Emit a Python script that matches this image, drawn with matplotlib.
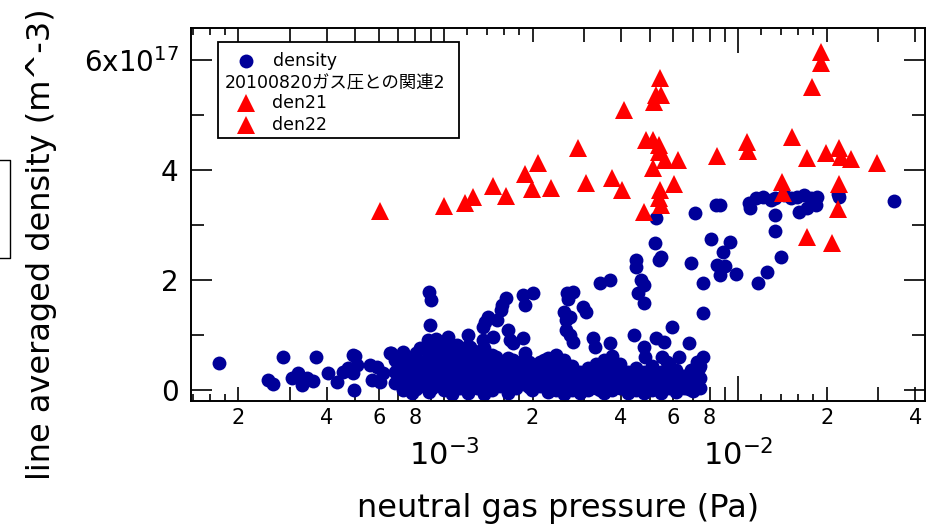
import matplotlib
matplotlib.use('Agg')
import matplotlib.pyplot as plt
from matplotlib.ticker import FixedLocator, FuncFormatter, NullFormatter
from matplotlib.lines import Line2D
from matplotlib.patches import Rectangle
import numpy as np

plt.rcParams['font.family'] = 'DejaVu Sans'
plt.rcParams['mathtext.fontset'] = 'dejavusans'

BLUE = '#000099'
RED = '#ff0000'

# --- density (blue dots): pressure in Pa, density in 1e17 m^-3 ---
density_p = [
    # sparse low-pressure points
    1.72e-4, 2.84e-4, 3.68e-4, 2.53e-4, 2.63e-4, 3.05e-4, 3.20e-4, 3.30e-4, 3.43e-4, 3.60e-4,
    4.02e-4, 4.34e-4, 4.52e-4, 4.70e-4, 4.89e-4, 5.00e-4, 4.93e-4, 5.08e-4, 4.89e-4, 5.62e-4,
    5.94e-4, 5.71e-4, 6.22e-4, 6.08e-4, 6.53e-4, 7.00e-4, 7.28e-4, 7.81e-4, 7.69e-4, 8.13e-4,
    # middle, raised points
    8.86e-4, 9.00e-4, 8.93e-4, 8.79e-4, 9.36e-4, 1.03e-3, 6.58e-4, 1.21e-3, 1.41e-3, 1.38e-3,
    1.52e-3, 1.62e-3, 1.58e-3, 1.56e-3, 1.65e-3, 1.68e-3, 1.86e-3, 1.89e-3, 1.71e-3, 1.47e-3,
    1.36e-3, 1.36e-3, 1.11e-3, 1.07e-3, 9.96e-4, 1.23e-3, 8.45e-4, 8.86e-4, 1.86e-3, 2.01e-3,
    1.89e-3, 2.63e-3, 2.74e-3, 2.65e-3, 2.55e-3, 2.69e-3, 2.59e-3, 2.69e-3, 2.74e-3, 2.98e-3,
    3.03e-3, 3.40e-3, 3.68e-3, 4.48e-3, 4.48e-3, 4.66e-3, 4.77e-3, 4.58e-3, 4.77e-3, 4.41e-3,
    5.24e-3, 5.58e-3, 5.98e-3, 6.79e-3, 3.68e-3, 3.20e-3, 3.27e-3, 4.77e-3, 4.84e-3, 7.57e-3,
    7.27e-3, 7.34e-3, 6.89e-3, 6.28e-3, 5.53e-3, 5.75e-3, 2.59e-3,
    # high-pressure branch
    5.24e-3, 7.16e-3, 8.38e-3, 8.71e-3, 1.086e-2, 1.10e-2, 1.146e-2, 1.22e-2, 1.29e-2, 1.34e-2,
    1.43e-2, 1.51e-2, 1.59e-2, 1.67e-2, 1.77e-2, 1.86e-2, 1.61e-2, 1.72e-2, 1.84e-2, 2.20e-2,
    1.34e-2, 1.34e-2, 3.38e-2, 5.20e-3, 5.45e-3, 5.37e-3, 6.89e-3, 8.06e-3, 9.42e-3, 8.92e-3,
    8.51e-3, 8.71e-3, 9.06e-3, 9.80e-3, 7.57e-3, 1.17e-2, 1.25e-2, 1.40e-2, 7.57e-3, 2.19e-2,
    # dense low-density band
    6.84e-4, 6.84e-4, 6.84e-4,
    7.28e-4, 7.28e-4, 7.28e-4, 7.28e-4,
    7.81e-4, 7.81e-4, 7.81e-4, 7.81e-4,
    8.32e-4, 8.32e-4, 8.32e-4, 8.32e-4,
    8.86e-4, 8.86e-4, 8.86e-4, 8.86e-4,
    9.43e-4, 9.43e-4, 9.43e-4, 9.43e-4,
    1.004e-3, 1.004e-3, 1.004e-3, 1.004e-3,
    1.069e-3, 1.069e-3, 1.069e-3, 1.069e-3, 1.069e-3,
    1.137e-3, 1.137e-3, 1.137e-3, 1.137e-3,
    1.211e-3, 1.211e-3, 1.211e-3, 1.211e-3, 1.211e-3,
    1.290e-3, 1.290e-3, 1.290e-3, 1.290e-3,
    1.373e-3, 1.373e-3, 1.373e-3, 1.373e-3, 1.373e-3,
    1.462e-3, 1.462e-3, 1.462e-3, 1.462e-3,
    1.556e-3, 1.556e-3, 1.556e-3,
    1.657e-3, 1.657e-3, 1.657e-3, 1.657e-3,
    1.764e-3, 1.764e-3, 1.764e-3,
    1.877e-3, 1.877e-3, 1.877e-3,
    1.998e-3, 1.998e-3, 1.998e-3,
    2.128e-3, 2.128e-3, 2.128e-3,
    2.265e-3, 2.265e-3, 2.265e-3, 2.265e-3,
    2.412e-3, 2.412e-3, 2.412e-3, 2.412e-3,
    2.567e-3, 2.567e-3, 2.567e-3, 2.567e-3,
    2.735e-3, 2.735e-3, 2.735e-3,
    2.911e-3, 2.911e-3, 2.911e-3,
    3.098e-3, 3.098e-3, 3.098e-3,
    3.30e-3, 3.30e-3, 3.30e-3,
    3.51e-3, 3.51e-3, 3.51e-3, 3.51e-3,
    3.74e-3, 3.74e-3, 3.74e-3, 3.74e-3,
    3.98e-3, 3.98e-3, 3.98e-3,
    4.24e-3, 4.24e-3, 4.24e-3,
    4.51e-3, 4.51e-3, 4.51e-3,
    4.80e-3, 4.80e-3, 4.80e-3,
    5.11e-3, 5.11e-3, 5.11e-3,
    5.45e-3, 5.45e-3, 5.45e-3,
    5.80e-3, 5.80e-3, 5.80e-3,
    6.17e-3, 6.17e-3, 6.17e-3,
    6.57e-3, 6.57e-3,
    7.00e-3, 7.00e-3, 7.00e-3,
    7.45e-3, 7.45e-3, 7.45e-3,
    # in-between band readings
    7.06e-4, 7.06e-4, 7.06e-4,
    8.06e-4, 8.06e-4, 8.06e-4, 8.06e-4,
    9.14e-4, 9.14e-4, 9.14e-4, 9.14e-4,
    1.036e-3, 1.036e-3, 1.036e-3, 1.036e-3,
    1.174e-3, 1.174e-3, 1.174e-3, 1.174e-3,
    1.330e-3, 1.330e-3, 1.330e-3, 1.330e-3,
    1.508e-3, 1.508e-3, 1.508e-3,
    1.71e-3, 1.71e-3, 1.71e-3,
    1.94e-3, 1.94e-3, 1.94e-3,
    2.196e-3, 2.196e-3, 2.196e-3,
    2.489e-3, 2.489e-3, 2.489e-3,
    3.40e-3, 3.40e-3, 3.40e-3,
    3.86e-3, 3.86e-3,
    4.66e-3, 4.66e-3,
    5.28e-3, 5.28e-3,
    6.79e-3, 6.79e-3,
]
density_n = [
    0.49, 0.60, 0.60, 0.18, 0.11, 0.22, 0.31, 0.09, 0.22, 0.16,
    0.31, 0.15, 0.33, 0.40, 0.64, 0.62, 0.00, 0.45, 0.31, 0.45,
    0.42, 0.18, 0.31, 0.15, 0.67, 0.42, 0.27, 0.51, 0.00, 0.24,
    1.78, 1.64, 1.18, 0.91, 0.93, 0.96, 0.67, 1.00, 1.33, 1.24,
    1.27, 1.67, 1.55, 1.45, 1.09, 0.91, 0.95, 0.67, 0.85, 0.96,
    1.15, 0.91, 0.82, 0.60, 0.78, 0.78, 0.49, 0.67, 1.73, 1.76,
    1.55, 1.76, 1.78, 1.65, 1.42, 1.33, 1.09, 1.00, 0.87, 1.51,
    1.42, 1.95, 2.00, 2.36, 2.24, 2.00, 1.91, 1.76, 1.58, 1.00,
    0.95, 0.87, 1.15, 0.85, 0.85, 0.95, 0.78, 0.78, 0.60, 0.60,
    0.51, 0.40, 0.36, 0.60, 0.60, 0.51, 1.27,
    3.13, 3.22, 3.36, 3.36, 3.40, 3.31, 3.49, 3.51, 3.45, 3.49,
    3.55, 3.49, 3.51, 3.55, 3.49, 3.51, 3.24, 3.31, 3.36, 3.51,
    3.18, 2.89, 3.44, 2.67, 2.42, 2.36, 2.31, 2.75, 2.69, 2.51,
    2.27, 2.09, 2.25, 2.11, 1.95, 1.95, 2.15, 2.42, 1.40, 3.56,
    0.55, 0.33, 0.13,
    0.69, 0.44, 0.22, 0.00,
    0.58, 0.36, 0.15, -0.05,
    0.76, 0.51, 0.29, 0.07,
    0.62, 0.40, 0.18, -0.04,
    0.78, 0.55, 0.33, 0.11,
    0.65, 0.44, 0.22, 0.00,
    0.82, 0.55, 0.33, 0.11, -0.07,
    0.69, 0.47, 0.25, 0.04,
    0.80, 0.58, 0.36, 0.15, -0.05,
    0.69, 0.47, 0.25, 0.04,
    0.76, 0.55, 0.33, 0.11, -0.07,
    0.64, 0.42, 0.20, 0.00,
    0.51, 0.29, 0.07,
    0.58, 0.36, 0.15, -0.05,
    0.47, 0.25, 0.04,
    0.55, 0.33, 0.11,
    0.44, 0.22, 0.00,
    0.51, 0.29, 0.07,
    0.58, 0.36, 0.15, -0.04,
    0.64, 0.42, 0.20, 0.00,
    0.55, 0.33, 0.11, -0.07,
    0.44, 0.22, 0.00,
    0.33, 0.11, -0.05,
    0.40, 0.18, 0.00,
    0.47, 0.25, 0.04,
    0.55, 0.33, 0.11, -0.05,
    0.62, 0.40, 0.18, 0.00,
    0.47, 0.25, 0.04,
    0.33, 0.11, -0.05,
    0.40, 0.18, 0.00,
    0.33, 0.11, -0.05,
    0.44, 0.22, 0.00,
    0.33, 0.11, -0.05,
    0.47, 0.25, 0.04,
    0.36, 0.15, -0.04,
    0.25, 0.04,
    0.33, 0.15, -0.02,
    0.44, 0.22, 0.04,
    0.60, 0.36, 0.13,
    0.67, 0.44, 0.22, 0.02,
    0.71, 0.47, 0.25, 0.04,
    0.75, 0.53, 0.29, 0.07,
    0.73, 0.51, 0.29, 0.07,
    0.71, 0.49, 0.27, 0.05,
    0.60, 0.38, 0.16,
    0.55, 0.31, 0.09,
    0.51, 0.27, 0.05,
    0.55, 0.33, 0.11,
    0.49, 0.27, 0.05,
    0.42, 0.20, 0.00,
    0.36, 0.13,
    0.27, 0.05,
    0.31, 0.07,
    0.22, 0.02,
]

# --- den21 / den22 (red triangles) ---
den21_p = [6.04e-4, 1.00e-3, 1.18e-3, 1.26e-3, 1.47e-3, 1.63e-3, 1.89e-3, 2.08e-3, 1.99e-3, 2.32e-3,
           2.85e-3, 3.05e-3, 3.74e-3, 4.02e-3, 4.08e-3, 4.77e-3, 4.85e-3, 5.12e-3, 5.37e-3, 5.37e-3,
           5.41e-3, 5.24e-3, 5.49e-3, 5.16e-3, 5.66e-3]
den21_n = [3.25, 3.35, 3.40, 3.51, 3.71, 3.53, 3.93, 4.13, 3.65, 3.67,
           4.40, 3.76, 3.85, 3.64, 5.09, 3.24, 4.55, 4.55, 4.45, 4.33,
           5.67, 5.36, 5.36, 5.24, 4.18]
den22_p = [6.27e-3, 5.12e-3, 6.04e-3, 5.41e-3, 5.37e-3, 5.45e-3, 8.51e-3, 1.07e-2, 1.08e-2, 1.53e-2,
           1.72e-2, 1.99e-2, 2.20e-2, 2.23e-2, 2.42e-2, 2.96e-2, 1.41e-2, 1.42e-2, 2.20e-2, 2.18e-2,
           1.72e-2, 2.09e-2, 1.91e-2, 1.91e-2, 1.79e-2]
den22_n = [4.18, 4.04, 3.75, 3.64, 3.49, 3.36, 4.25, 4.51, 4.35, 4.60,
           4.22, 4.31, 4.40, 4.24, 4.20, 4.13, 3.78, 3.58, 3.75, 3.29,
           2.78, 2.67, 6.15, 5.95, 5.51]

y_ticks = [0, 2e17, 4e17, 6e17]
y_ticklabels = ['0', '2', '4', r'6x10$^{17}$']

fig = plt.figure(figsize=(9.35, 5.28), dpi=100)
ax = fig.add_axes([191 / 935, 127 / 528, 734 / 935, 373 / 528])

ax.plot(density_p, np.array(density_n) * 1e17, 'o', color=BLUE, ms=10, mew=0, ls='none')
ax.plot(den21_p, np.array(den21_n) * 1e17, '^', color=RED, ms=13, mew=0, ls='none')
ax.plot(den22_p, np.array(den22_n) * 1e17, '^', color=RED, ms=13, mew=0, ls='none')

ax.set_xscale('log')
ax.set_xlim(1.38e-4, 4.32e-2)
ax.set_ylim(-0.2e17, 6.58e17)

# x ticks: decades (major) and 2..9 (minor, only even ones labelled)
ax.xaxis.set_major_locator(FixedLocator([1e-3, 1e-2]))
ax.xaxis.set_major_formatter(FuncFormatter(lambda v, p: r'$10^{%d}$' % round(np.log10(v))))
minor_x = [m * 10.0 ** d for d in (-4, -3, -2) for m in range(2, 10)]
ax.xaxis.set_minor_locator(FixedLocator(minor_x))


def minor_label(v, pos):
    m = int(round(v / 10.0 ** np.floor(np.log10(v) + 1e-9)))
    return str(m) if m in (2, 4, 6, 8) else ''


ax.xaxis.set_minor_formatter(FuncFormatter(minor_label))

ax.set_yticks(y_ticks)
ax.set_yticklabels(y_ticklabels)
ax.set_yticks([1e17, 3e17, 5e17], minor=True)

ax.tick_params(which='both', direction='in', top=True, right=True, width=1.2, colors='black')
ax.tick_params(axis='y', which='major', length=15, labelsize=20, pad=9)
ax.tick_params(axis='y', which='minor', length=9.5)
ax.tick_params(axis='x', which='major', length=18, labelsize=22, pad=27)
ax.tick_params(axis='x', which='minor', length=10, labelsize=15, pad=5)
for s in ax.spines.values():
    s.set_linewidth(1.4)

# short extra ticks at 1.2, 1.4, 1.6, 1.8 of each decade (top and bottom)
sub_x = [m * 10.0 ** d for d in (-4, -3, -2) for m in (1.2, 1.4, 1.6, 1.8)]
for side in ('bottom', 'top'):
    sec = ax.secondary_xaxis(side)
    sec.set_xscale('log')
    sec.xaxis.set_major_locator(FixedLocator(sub_x))
    sec.xaxis.set_major_formatter(NullFormatter())
    sec.xaxis.set_minor_locator(FixedLocator([]))
    sec.tick_params(direction='in', length=5, width=1.2)
    sec.spines[side].set_visible(False)

ax.set_xlabel('neutral gas pressure (Pa)', fontsize=23)
ax.set_ylabel('line averaged density (m^-3)', fontsize=23)
ax.xaxis.label.set_va('center')
ax.xaxis.set_label_coords(0.5, -0.287)
ax.yaxis.label.set_va('center')
ax.yaxis.set_label_coords(-0.203, 0.42)

# legend box drawn in axes coordinates
ax.add_patch(Rectangle((0.0368, 0.705), 0.328, 0.2575, transform=ax.transAxes,
                       facecolor='white', edgecolor='black', lw=1.3, zorder=5))
ax.add_artist(Line2D([0.0749], [0.9115], transform=ax.transAxes, marker='o', color=BLUE,
                     ms=10, mew=0, ls='none', zorder=6))
ax.add_artist(Line2D([0.0749], [0.799], transform=ax.transAxes, marker='^', color=RED,
                     ms=13, mew=0, ls='none', zorder=6))
ax.add_artist(Line2D([0.0749], [0.740], transform=ax.transAxes, marker='^', color=RED,
                     ms=13, mew=0, ls='none', zorder=6))
ax.text(0.1117, 0.9115, 'density', transform=ax.transAxes, fontsize=12.5, va='center', zorder=6)
ax.text(0.0463, 0.855, '20100820ガス圧との関連2', transform=ax.transAxes, fontsize=12.5,
        va='center', family=['DejaVu Sans', 'Noto Sans CJK JP'], zorder=6)
ax.text(0.110, 0.799, 'den21', transform=ax.transAxes, fontsize=12.5, va='center', zorder=6)
ax.text(0.110, 0.740, 'den22', transform=ax.transAxes, fontsize=12.5, va='center', zorder=6)

# stray box edge at the far left of the page
fig.add_artist(Line2D([0, 10 / 935, 10 / 935, 0], [1 - 160 / 528, 1 - 160 / 528, 1 - 258 / 528, 1 - 258 / 528],
                      color='black', lw=1.0))

fig.savefig('out.png', dpi=100)
